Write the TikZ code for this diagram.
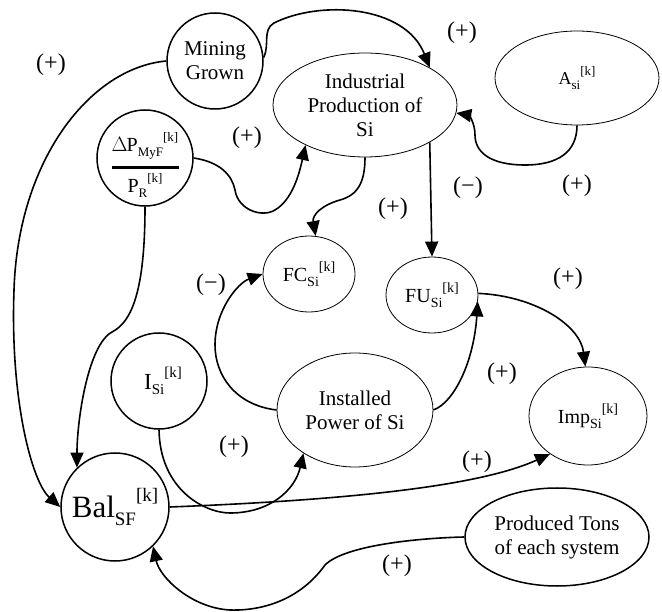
\documentclass[tikz,border=0pt]{standalone}
\usepackage{fontspec}
\setmainfont{Liberation Serif}
\usetikzlibrary{arrows.meta,shapes.geometric}
\newcommand{\myss}[3][13]{\raisebox{-0.25em}{\fontsize{#1}{#1}\selectfont #2}\raisebox{0.5em}{\fontsize{#1}{#1}\selectfont #3}}
\begin{document}
\begin{tikzpicture}[x=1pt,y=-1pt,
  font=\fontsize{21}{24}\selectfont,
  circ/.style={draw, circle, line width=1.5pt, inner sep=0pt, minimum size=#1, align=center},
  ell/.style n args={2}{draw, ellipse, line width=0.8pt, inner sep=0pt, minimum width=#1, minimum height=#2, align=center},
  conn/.style={line width=1.6pt, -{Triangle[length=15pt,width=13pt]}},
  sign/.style={inner sep=0pt, font=\fontsize{24}{26}\selectfont}]
\useasboundingbox (0,0) rectangle (662,612);

% nodes
\node[circ=96pt] (mg) at (215,61) {Mining\\Grown};
\node[ell={184pt}{104pt}] (ip) at (365,105) {Industrial\\Production of\\Si};
\node[ell={164pt}{94pt}, font=\fontsize{18}{20}\selectfont] (asi) at (577,78) {A\myss[13]{si}{[k]}};
\node[circ=96pt, font=\fontsize{20}{22}\selectfont] (dp) at (145,158)
  {\raisebox{-8pt}[\height][\depth]{\begin{tabular}{@{}c@{}}$\Delta$\kern-1ptP\myss[13]{MyF}{[k]}\\[-6pt]\rule{67pt}{2.6pt}\\[-2pt]P\myss[13]{R}{[k]}\end{tabular}}};
\node[ell={92pt}{76pt}, font=\fontsize{20}{22}\selectfont] (fc) at (309,274) {FC\myss[14]{Si}{[k]}};
\node[ell={92pt}{76pt}, font=\fontsize{20}{22}\selectfont] (fu) at (432,295) {FU\myss[14]{Si}{[k]}};
\node[circ=96pt, font=\fontsize{23}{25}\selectfont] (isi) at (159,381) {\hspace{8pt}I\myss[15]{Si}{[k]}};
\node[ell={156pt}{114pt}] (inst) at (355,410) {Installed\\Power of Si};
\node[ell={118pt}{98pt}, font=\fontsize{20}{22}\selectfont] (imp) at (588,416) {Imp\myss[14]{Si}{[k]}};
\node[circ=108pt, font=\fontsize{31}{33}\selectfont] (bal) at (115,507) {Bal\myss[19]{SF}{[k]}};
\node[ell={184pt}{98pt}, line width=1.5pt] (pt) at (557,537) {Produced Tons\\of each system};

% connectors
\draw[conn] (mg.4) .. controls (270,45) and (262,30) .. (274,23)
  .. controls (320,0) and (405,5) .. (ip.30);
\draw[conn] (mg.180) .. controls (90,68) and (18,160) .. (14,290)
  .. controls (10,400) and (32,482) .. (bal.180);
\draw[conn] (dp.0) .. controls (220,162) and (232,175) .. (235,190)
  .. controls (238,210) and (262,218) .. (275,210)
  .. controls (292,200) and (299,175) .. (ip.214);
\draw[conn] (dp.270) .. controls (145,290) and (132,322) .. (112,332)
  .. controls (88,345) and (77,420) .. (bal.134);
\draw[conn] (ip.270) .. controls (365,182) and (358,195) .. (340,200)
  .. controls (322,205) and (312,215) .. (fc.80);
\draw[conn] (ip.-30) -- (fu.north);
\draw[conn] (asi.270) .. controls (577,152) and (558,165) .. (525,165)
  .. controls (490,165) and (475,152) .. (475,135)
  .. controls (475,122) and (468,115) .. (ip.-5);
\draw[conn] (inst.180) .. controls (235,405) and (215,375) .. (215,345)
  .. controls (215,310) and (238,283) .. (fc.180);
\draw[conn] (inst.0) .. controls (455,402) and (474,360) .. (fu.-8);
\draw[conn] (fu.2) .. controls (535,296) and (580,325) .. (imp.93);
\draw[conn] (isi.270) .. controls (160,490) and (205,513) .. (230,513)
  .. controls (270,513) and (295,490) .. (inst.220);
\draw[conn] (bal.0) .. controls (350,500) and (480,486) .. (imp.225);
\draw[conn] (pt.180) .. controls (420,538) and (345,545) .. (325,565)
  .. controls (300,600) and (262,611) .. (230,610)
  .. controls (192,608) and (160,578) .. (bal.-46);

% signs
\node[sign] (l1) at (51,65) {(+)};
\node[sign] (l2) at (462,33) {(+)};
\node[sign] (l3) at (247,138) {(+)};
\node[sign] (l4) at (468,188) {(−)};
\node[sign] (l5) at (577,186) {(+)};
\node[sign] (l6) at (393,209) {(+)};
\node[sign] (l7) at (211,285) {(−)};
\node[sign] (l8) at (568,279) {(+)};
\node[sign] (l9) at (502,374) {(+)};
\node[sign] (l10) at (234,447) {(+)};
\node[sign] (l11) at (477,462) {(+)};
\node[sign] (l12) at (397,566) {(+)};
\end{tikzpicture}
\end{document}
